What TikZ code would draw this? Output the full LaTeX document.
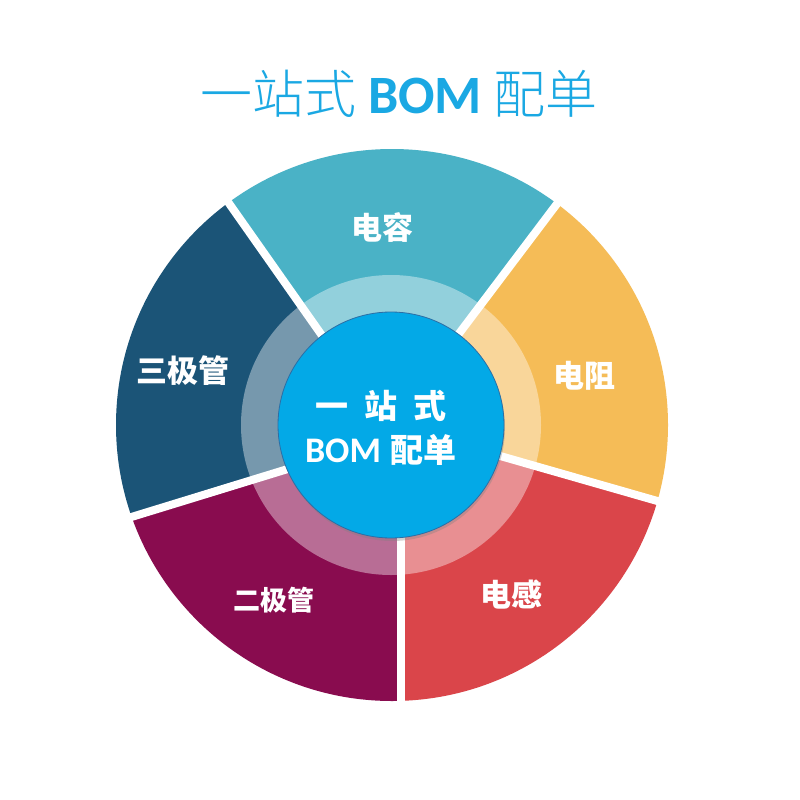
\documentclass[tikz,border=0pt]{standalone}
\usepackage{fontspec}
\newfontfamily\cjk{Noto Sans CJK SC}
\newfontfamily\cjklight{Noto Sans CJK SC Light}
\newfontfamily\lat{Carlito}
\usetikzlibrary{shadows}
\definecolor{cTitle}{HTML}{1AA8E3}
\definecolor{cCap}{HTML}{4AB2C6}
\definecolor{cRes}{HTML}{F5BC57}
\definecolor{cInd}{HTML}{DA454A}
\definecolor{cDio}{HTML}{890C4F}
\definecolor{cTri}{HTML}{1B5477}
\definecolor{cHub}{HTML}{03A9E7}
\definecolor{cHubEdge}{HTML}{2C6EA5}
\tikzset{
  seglabel/.style={text=white, inner sep=0pt, font=\cjk\bfseries\fontsize{31}{31}\selectfont},
  gapline/.style={white, line width=8pt},
}
\begin{document}
\begin{tikzpicture}[x=1pt,y=-1pt]
\useasboundingbox (0,0) rectangle (800,800);
\fill[white] (0,0) rectangle (800,800);
% boundary line points (centre crossing and far end)
\coordinate (cTL) at (385,425);  \coordinate (fTL) at (126,57);
\coordinate (cTR) at (390,425);  \coordinate (fTR) at (661,66);
\coordinate (cR)  at (392,425);  \coordinate (fR)  at (825,549);
\coordinate (cL)  at (392,437);  \coordinate (fL)  at (-38,569);
\coordinate (cB)  at (401,425);  \coordinate (fB)  at (401,900);
\coordinate (ctr) at (391,425);
\begin{scope}
  \clip (392,425) circle[radius=276];
  \fill[cCap] (cTL) -- (fTL) -- (390,-50) -- (fTR) -- (cTR) -- cycle;
  \fill[cRes] (cTR) -- (fTR) -- (900,300) -- (fR) -- (cR) -- cycle;
  \fill[cInd] (cR) -- (fR) -- (700,900) -- (fB) -- (cB) -- cycle;
  \fill[cDio] (cB) -- (fB) -- (100,900) -- (fL) -- (cL) -- cycle;
  \fill[cTri] (cL) -- (fL) -- (-100,300) -- (fTL) -- (cTL) -- cycle;
\end{scope}
\fill[white, opacity=0.4] (ctr) circle[radius=150];
\draw[gapline] (cTL) -- (fTL);
\draw[gapline] (cTR) -- (fTR);
\draw[gapline] (cR) -- (fR);
\draw[gapline] (cL) -- (fL);
\draw[gapline] (cB) -- (fB);
\node[circle, fill=cHub, draw=cHubEdge, line width=0.8pt, minimum size=226pt, inner sep=0pt,
  drop shadow={opacity=0.35, shadow xshift=1pt, shadow yshift=-3pt}] (hub) at (ctr) {};
\node[align=center, text=white, inner sep=0pt, font=\cjk\bfseries\fontsize{33}{44}\selectfont]
  (hubtext) at (381,428) {一\hspace{16pt}站\hspace{16pt}式\\{\lat\bfseries\fontsize{36}{44}\selectfont BOM}\hspace{10pt}配单};
\node[seglabel] (cap) at (382,228) {电容};
\node[seglabel] (res) at (584,376) {电阻};
\node[seglabel] (ind) at (511,594) {电感};
\node[seglabel, font=\cjk\bfseries\fontsize{27}{27}\selectfont] (dio) at (274,600) {二极管};
\node[seglabel] (tri) at (183,371) {三极管};
\node[anchor=base, text=cTitle, inner sep=0pt, font=\cjklight\fontsize{52}{52}\selectfont]
  (title) at (399,113) {一站式 {\lat\bfseries\fontsize{54}{54}\selectfont BOM} 配单};
\end{tikzpicture}
\end{document}
